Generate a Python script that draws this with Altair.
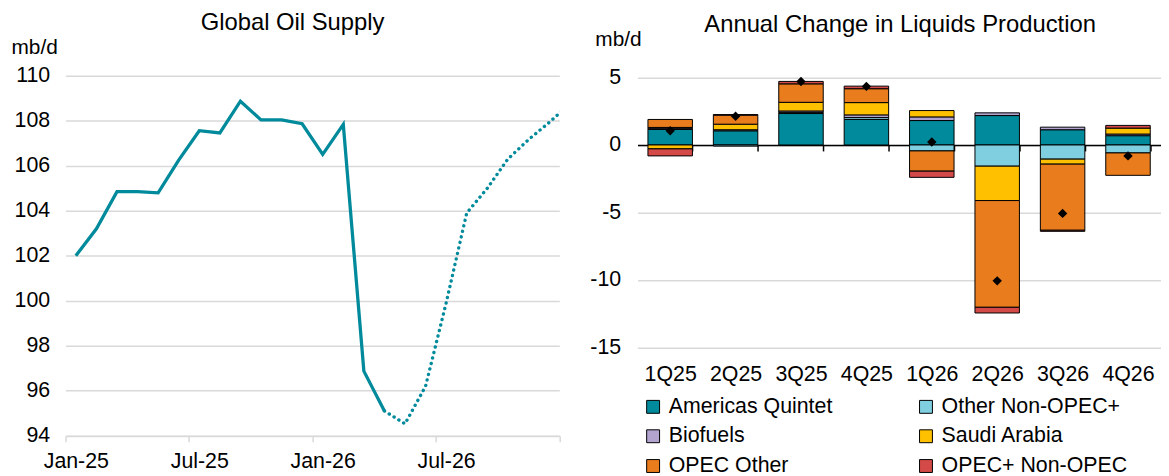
import altair as alt
import pandas as pd

FONT = "Liberation Sans"

# ---------------- Left chart data: Global Oil Supply (mb/d) ----------------
months = ["Jan-25", "Feb-25", "Mar-25", "Apr-25", "May-25", "Jun-25", "Jul-25",
          "Aug-25", "Sep-25", "Oct-25", "Nov-25", "Dec-25", "Jan-26", "Feb-26",
          "Mar-26", "Apr-26", "May-26", "Jun-26", "Jul-26", "Aug-26", "Sep-26",
          "Oct-26", "Nov-26", "Dec-26", "Jan-27"]
supply_actual = [102.0, 103.2, 104.85, 104.85, 104.8, 106.25, 107.56, 107.46,
                 108.87, 108.04, 108.04, 107.87, 106.51, 107.84, 96.87, 95.10]
# forecast starts at Apr-26
supply_forecast = [95.10, 94.53, 96.2, 99.9, 103.9, 105.0, 106.3, 107.16, 107.92, 108.75]
month_tick_labels = ["Jan-25", "Jul-25", "Jan-26", "Jul-26", ""]
supply_ticks = [94, 96, 98, 100, 102, 104, 106, 108, 110]

# ---------------- Right chart data: Annual change in liquids (mb/d) ----------------
quarters = ["1Q25", "2Q25", "3Q25", "4Q25", "1Q26", "2Q26", "3Q26", "4Q26"]
series = ["Americas Quintet", "Other Non-OPEC+", "Biofuels", "Saudi Arabia",
          "OPEC Other", "OPEC+ Non-OPEC"]
colors = ["#008a9b", "#80cfe0", "#b3a3cf", "#ffc000", "#e97c1c", "#d44a48"]
americas = [1.15, 1.05, 2.33, 1.89, 1.81, 2.18, 1.13, 0.69]
other_nonopec = [0.06, -0.08, 0.09, 0.14, -0.44, -1.57, -1.05, -0.59]
biofuels = [0.09, 0.08, 0.10, 0.20, 0.27, 0.20, 0.19, 0.12]
saudi = [-0.29, 0.41, 0.64, 0.91, 0.47, -2.55, -0.37, 0.44]
opec_other = [0.59, 0.67, 1.37, 1.03, -1.50, -7.91, -4.90, -1.66]
opec_plus_nonopec = [-0.52, 0.04, 0.18, 0.19, -0.46, -0.42, -0.08, 0.20]
total_change = [1.05, 2.13, 4.70, 4.34, 0.22, -10.07, -5.07, -0.81]
change_ticks = [-15, -10, -5, 0, 5]

# legend is filled column by column (3 rows x 2 columns)
legend_order = [series[0], series[2], series[4], series[1], series[3], series[5]]
legend_colors = [colors[series.index(s)] for s in legend_order]

# ---------------- layout ----------------
W_L, H_L = 497.6, 362.7
W_R, H_R = 527.3, 273.7
Y_R = [-15, 5.125]
GRID = "#d9d9d9"

# ---------------- Left chart ----------------
act_df = pd.DataFrame({"m": list(range(len(supply_actual))), "v": supply_actual,
                       "month": months[:len(supply_actual)]})
start_fc = len(supply_actual) - 1
fc_df = pd.DataFrame({"m": list(range(start_fc, start_fc + len(supply_forecast))),
                      "v": supply_forecast,
                      "month": months[start_fc:start_fc + len(supply_forecast)]})

n_months = 24
tick_vals = [i - 0.5 for i in range(0, n_months + 1, 6)]
label_expr = "[" + ",".join("'" + t + "'" for t in month_tick_labels) + "][round((datum.value + 0.5) / 6)]"

x_left = alt.X("m:Q",
               scale=alt.Scale(domain=[-0.5, n_months - 0.5], nice=False, zero=False),
               axis=alt.Axis(values=tick_vals, labelExpr=label_expr,
                             labelOffset=W_L / n_months / 2, labelFlush=False,
                             labelOverlap=False, labelAngle=0,
                             tickSize=6, tickColor=GRID, tickWidth=1.5,
                             domainColor=GRID, domainWidth=1.5, grid=False,
                             title=None, labelFontSize=21.5, labelColor="black",
                             labelPadding=9.5, labelFont=FONT))
y_left = alt.Y("v:Q",
               scale=alt.Scale(domain=[94, 110], nice=False, zero=False),
               axis=alt.Axis(values=supply_ticks, grid=True, gridColor=GRID,
                             gridWidth=1.5, domain=False, ticks=False,
                             labelPadding=16, labelFontSize=21.5, labelColor="black",
                             labelFont=FONT,
                             title="mb/d", titleAngle=0, titleAlign="left",
                             titleBaseline="middle", titleX=-55, titleY=-28,
                             titleFontWeight="normal", titleFontSize=21,
                             titleFont=FONT, titleColor="black"))

line_actual = alt.Chart(act_df).mark_line(color="#008a9b", strokeWidth=3.3,
                                          strokeJoin="miter").encode(x=x_left, y=y_left)
line_fc = alt.Chart(fc_df).mark_line(color="#008a9b", strokeWidth=3.4,
                                     strokeDash=[0.1, 5.6], strokeCap="round",
                                     clip=True).encode(x=x_left, y=y_left)

left = alt.layer(line_actual, line_fc).properties(
    width=W_L, height=H_L,
    title=alt.TitleParams("Global Oil Supply", fontSize=24, fontWeight="normal",
                          font=FONT, color="black", anchor="middle",
                          frame="group", offset=0, dy=-2, dx=-20))

# ---------------- Right chart ----------------
rows = []
series_vals = [americas, other_nonopec, biofuels, saudi, opec_other, opec_plus_nonopec]
for si, (name, vals) in enumerate(zip(series, series_vals)):
    for q, v in zip(quarters, vals):
        rows.append({"q": q, "s": name, "v": v, "o": si})
bar_df = pd.DataFrame(rows)
tot_df = pd.DataFrame({"q": quarters, "t": total_change})

zero_off = H_R * (0 - Y_R[0]) / (Y_R[1] - Y_R[0])

x_right = alt.X("q:N", sort=quarters,
                scale=alt.Scale(paddingInner=0.32, paddingOuter=0.16),
                axis=alt.Axis(title=None, offset=-zero_off, tickBand="extent",
                              tickSize=6, tickColor="black", tickWidth=1.5,
                              domainColor="black", domainWidth=1.5,
                              labelPadding=zero_off + 10.5, labelFontSize=21.5,
                              labelColor="black", labelFont=FONT,
                              labelAngle=0, grid=False))
y_right_scale = alt.Scale(domain=Y_R, nice=False, zero=False)
y_right = alt.Y("v:Q", scale=y_right_scale, stack="zero",
                axis=alt.Axis(values=change_ticks, grid=True, gridColor=GRID,
                              gridWidth=1.5, domain=False, ticks=False,
                              labelExpr="datum.value < 0 ? '-' + abs(datum.value) : '' + datum.value",
                              labelPadding=17, labelFontSize=21.5, labelColor="black",
                              labelFont=FONT,
                              title="mb/d", titleAngle=0, titleAlign="left",
                              titleBaseline="middle", titleX=-43, titleY=-37,
                              titleFontWeight="normal", titleFontSize=21,
                              titleFont=FONT, titleColor="black"))

bars = alt.Chart(bar_df).mark_bar(stroke="black", strokeWidth=1).encode(
    x=x_right,
    y=y_right,
    color=alt.Color("s:N", scale=alt.Scale(domain=legend_order, range=legend_colors),
                    legend=alt.Legend(orient="none", legendX=5, legendY=322.5,
                                      columns=2, columnPadding=83, rowPadding=7,
                                      symbolType="square", symbolSize=169,
                                      symbolStrokeColor="black", symbolStrokeWidth=1,
                                      labelFontSize=21.5, labelFont=FONT,
                                      labelColor="black", labelLimit=400,
                                      labelOffset=5, title=None, padding=0)),
    order=alt.Order("o:Q"),
)
diamonds = alt.Chart(tot_df).mark_point(shape="diamond", filled=True, color="black",
                                        size=90, opacity=1).encode(
    x=alt.X("q:N", sort=quarters),
    y=alt.Y("t:Q", scale=y_right_scale),
)

right = alt.layer(bars, diamonds).properties(
    width=W_R, height=H_R,
    title=alt.TitleParams("Annual Change in Liquids Production", fontSize=24,
                          fontWeight="normal", font=FONT, color="black",
                          anchor="middle", frame="group", offset=0, dy=9, dx=1))

chart = alt.hconcat(left, right, spacing=78.4, bounds="flush").resolve_legend(
    color="independent"
).properties(
    padding={"left": 3, "top": 1.5, "right": 0, "bottom": 0}
).configure(font=FONT).configure_view(stroke=None)

chart.save("out.html", embed_options={"renderer": "svg", "actions": False})
